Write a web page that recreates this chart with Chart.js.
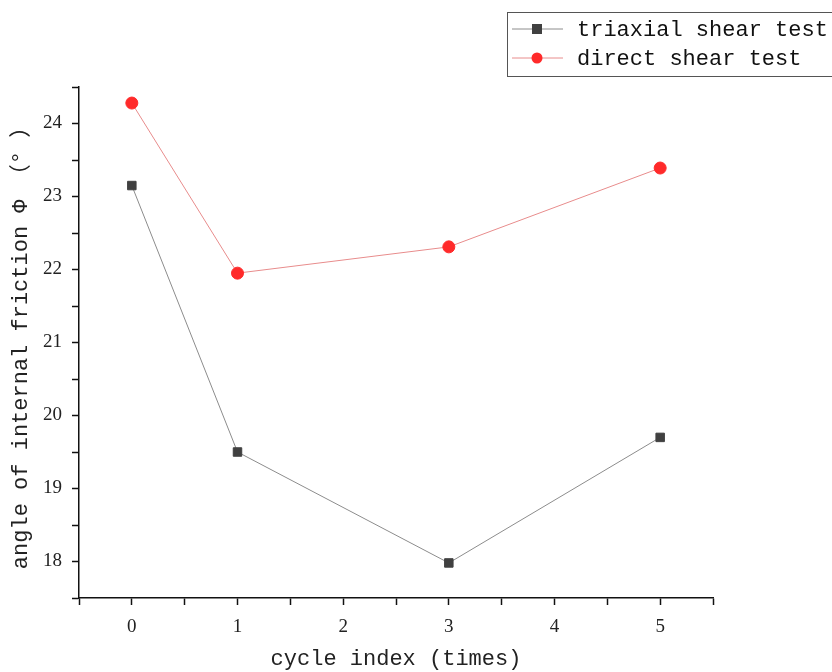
<!DOCTYPE html>
<html>
<head>
<meta charset="utf-8">
<script src="https://cdn.jsdelivr.net/npm/chart.js@4"></script>
<style>
  body { margin: 0; background: #fff; }
  #wrap { width: 832px; height: 672px; position: relative; }
</style>
</head>
<body>
<div id="wrap"><canvas id="phi"></canvas></div>
<script>
let cycles = [0, 1, 3, 5];
let triaxial = [23.15, 19.5, 17.98, 19.7];
let direct = [24.28, 21.95, 22.31, 23.39];
let seriesNames = ["triaxial shear test", "direct shear test"];
let xTitle = "cycle index (times)";
let yTitle = "angle of internal friction Φ （° ）";

const monoFont = "'Liberation Mono', 'Noto Sans CJK SC', monospace";
const serifFont = "'Liberation Serif', serif";

// legend box drawn in the top right corner, outside the plot
const boxLegend = {
  id: "boxLegend",
  afterDraw(chart) {
    let ctx = chart.ctx;
    ctx.save();
    ctx.strokeStyle = "#555";
    ctx.lineWidth = 1;
    ctx.strokeRect(507.5, 12.5, 330, 64);
    chart.data.datasets.forEach((ds, i) => {
      let y = 29 + i * 29;
      ctx.strokeStyle = ds.borderColor;
      ctx.lineWidth = 1;
      ctx.beginPath();
      ctx.moveTo(512, y);
      ctx.lineTo(563, y);
      ctx.stroke();
      ctx.fillStyle = ds.pointBackgroundColor;
      if (ds.pointStyle === "rect") {
        ctx.fillRect(532, y - 5, 10, 10);
      } else {
        ctx.beginPath();
        ctx.arc(537, y, 5.5, 0, Math.PI * 2);
        ctx.fill();
      }
      ctx.fillStyle = "#111";
      ctx.font = "22px " + monoFont;
      ctx.textBaseline = "middle";
      ctx.fillText(ds.label, 577, y + 1);
    });
    ctx.restore();
  }
};

new Chart("phi", {
  type: "line",
  data: {
    datasets: [
      {
        label: seriesNames[0],
        data: cycles.map((c, i) => ({ x: c, y: triaxial[i] })),
        borderColor: "#8c8c8c",
        borderWidth: 1,
        pointStyle: "rect",
        pointRadius: 6,
        pointBackgroundColor: "#404040",
        pointBorderColor: "#404040",
        lineTension: 0,
        fill: false,
      },
      {
        label: seriesNames[1],
        data: cycles.map((c, i) => ({ x: c, y: direct[i] })),
        borderColor: "#e88c8c",
        borderWidth: 1,
        pointStyle: "circle",
        pointRadius: 6,
        pointBackgroundColor: "#ff2a2a",
        pointBorderColor: "#ff2a2a",
        lineTension: 0,
        fill: false,
      },
    ],
  },
  options: {
    responsive: true,
    maintainAspectRatio: false,
    animation: false,
    layout: { padding: { top: 87, right: 119, left: 0, bottom: 0 } },
    plugins: {
      legend: { display: false },
      tooltip: { enabled: false },
    },
    scales: {
      x: {
        type: "linear",
        min: -0.5,
        max: 5.5,
        afterFit: (s) => { s.height = 74; },
        ticks: {
          stepSize: 0.5,
          autoSkip: false,
          color: "#222",
          font: { family: serifFont, size: 19 },
          padding: 11,
          callback: (v) => (Number.isInteger(v) ? v : ""),
        },
        grid: {
          drawOnChartArea: false,
          drawTicks: true,
          tickLength: 7,
          tickColor: "#111",
          tickWidth: 1.5,
        },
        border: { color: "#111", width: 1.5 },
        title: {
          display: true,
          text: xTitle,
          color: "#222",
          font: { family: monoFont, size: 22 },
          padding: { top: 0, bottom: 0 },
        },
      },
      y: {
        min: 17.5,
        max: 24.5,
        afterFit: (s) => { s.width = 79; },
        ticks: {
          stepSize: 0.5,
          autoSkip: false,
          color: "#222",
          font: { family: serifFont, size: 19 },
          padding: 10,
          callback: (v) => (Number.isInteger(v) ? v : ""),
        },
        grid: {
          drawOnChartArea: false,
          drawTicks: true,
          tickLength: 7,
          tickColor: "#111",
          tickWidth: 1.5,
        },
        border: { color: "#111", width: 1.5 },
        title: {
          display: true,
          text: yTitle,
          color: "#222",
          font: { family: monoFont, size: 22 },
          padding: { top: 8, bottom: 0 },
        },
      },
    },
  },
  plugins: [boxLegend],
});
</script>
</body>
</html>
